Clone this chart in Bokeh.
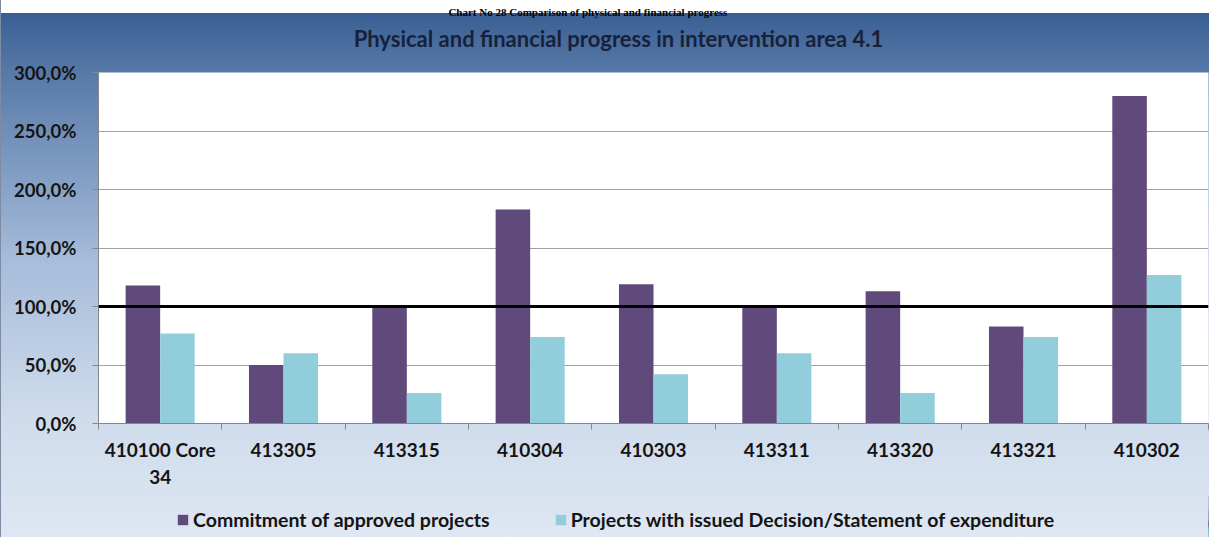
from bokeh.plotting import figure
from bokeh.layouts import column
from bokeh.models import (ColumnDataSource, Range1d, FixedTicker, CustomJSTickFormatter,
                          Span, Label, Legend, LegendItem)
from bokeh.transform import dodge
from bokeh.embed import file_html
from bokeh.resources import INLINE

# ---- data ----
categories = ["410100 Core\n34", "413305", "413315", "410304", "410303",
              "413311", "413320", "413321", "410302"]
commitment = [118, 50, 100, 183, 119, 100, 113, 83, 280]
issued = [77, 60, 26, 74, 42, 60, 26, 74, 127]
series_names = ["Commitment of approved projects",
                "Projects with issued Decision/Statement of expenditure"]
target = 100
y_ticks = [0, 50, 100, 150, 200, 250, 300]
chart_title = "Physical and financial progress in intervention area 4.1"
header = "Chart No 28        Comparison of physical and financial progress"

PURPLE = "#604A7B"
CYAN = "#92CDDC"
FONT = "Lato"
W = 1209

n = len(categories)
centers = [i + 0.5 for i in range(n)]
bounds = [i for i in range(n + 1)]
bw = 0.28
src = ColumnDataSource(dict(x=centers, c=commitment, d=issued))


def bare(height, xr, yr):
    f = figure(width=W, height=height, output_backend="svg", toolbar_location=None,
               x_range=xr, y_range=yr, x_axis_location=None, y_axis_location=None,
               min_border=0, min_border_left=0, min_border_right=0,
               min_border_top=0, min_border_bottom=0)
    f.border_fill_color = None
    f.background_fill_color = None
    f.outline_line_color = None
    f.grid.visible = False
    return f


# ---- top band: header + chart title (frame is aligned with the main chart's) ----
top = bare(60, Range1d(0, 1), Range1d(0, 1))
top.add_layout(Label(x=499, y=49, x_units="screen", y_units="screen", text=header,
                     text_align="center", text_baseline="alphabetic",
                     text_font="Liberation Serif", text_font_style="bold",
                     text_font_size="11px", text_color="black"))
top.add_layout(Label(x=520, y=22, x_units="screen", y_units="screen", text=chart_title,
                     text_align="center", text_baseline="alphabetic", text_font=FONT,
                     text_font_style="bold", text_font_size="22px", text_color="#18213a"))

# ---- main chart ----
p = figure(width=W, height=433, output_backend="svg", toolbar_location=None,
           x_range=Range1d(0, n), y_range=Range1d(0, 300),
           min_border_left=98, min_border_right=1, min_border_top=12,
           min_border_bottom=70)
p.border_fill_color = None
p.background_fill_color = "white"
p.outline_line_color = None

r1 = p.vbar(x=dodge("x", -bw / 2), top="c", width=bw, source=src,
            fill_color=PURPLE, line_color=None)
r2 = p.vbar(x=dodge("x", bw / 2), top="d", width=bw, source=src,
            fill_color=CYAN, line_color=None)

p.add_layout(Span(location=target, dimension="width", line_color="black", line_width=3))

xa = p.xaxis[0]
xa.ticker = FixedTicker(ticks=centers, minor_ticks=bounds)
xa.major_label_overrides = {c: lab for c, lab in zip(centers, categories)}
xa.major_tick_out = 0
xa.major_tick_in = 0
xa.minor_tick_out = 6
xa.minor_tick_in = 0
xa.minor_tick_line_color = "#868686"
xa.axis_line_color = "#868686"
xa.major_label_text_font = FONT
xa.major_label_text_font_style = "bold"
xa.major_label_text_font_size = "19px"
xa.major_label_text_color = "#141414"
xa.major_label_standoff = 8

ya = p.yaxis[0]
ya.ticker = FixedTicker(ticks=y_ticks)
ya.formatter = CustomJSTickFormatter(code="return tick.toFixed(1).replace('.', ',') + '%';")
ya.major_tick_out = 6
ya.major_tick_in = 0
ya.minor_tick_line_color = None
ya.major_tick_line_color = "#868686"
ya.axis_line_color = "#868686"
ya.major_label_text_font = FONT
ya.major_label_text_font_style = "bold"
ya.major_label_text_font_size = "18.5px"
ya.major_label_text_color = "#141414"
ya.major_label_standoff = 16

p.xgrid.grid_line_color = None
p.ygrid.ticker = FixedTicker(ticks=y_ticks[1:-1])
p.ygrid.grid_line_color = "#A0A0A0"

# ---- legend band ----
leg = bare(44, Range1d(-10, -9), Range1d(0, 300))
l1 = leg.vbar(x=dodge("x", -bw / 2), top="c", width=bw, source=src,
              fill_color=PURPLE, line_color=None)
l2 = leg.vbar(x=dodge("x", bw / 2), top="d", width=bw, source=src,
              fill_color=CYAN, line_color=None)
legend = Legend(items=[LegendItem(label=series_names[0], renderers=[l1]),
                       LegendItem(label=series_names[1], renderers=[l2])],
                orientation="horizontal", location=(78, 6),
                background_fill_alpha=0, border_line_color=None,
                label_text_font=FONT, label_text_font_style="bold",
                label_text_font_size="19.5px", label_text_color="#141414",
                glyph_width=13, glyph_height=13, label_standoff=4, spacing=64,
                label_height=24, padding=0, margin=0)
leg.add_layout(legend)

layout = column(top, p, leg, spacing=0)
layout.styles = {"background": "linear-gradient(to bottom, #ffffff 0px, #ffffff 13px, "
                               "#3a5f93 13px, #5779a8 72px, #a6bcda 260px, #cfdcec 420px, "
                               "#dee7f2 537px)",
                 "box-shadow": "inset 1px 0 0 #7d8ca3"}

open("out.html", "w").write(file_html(layout, INLINE))
